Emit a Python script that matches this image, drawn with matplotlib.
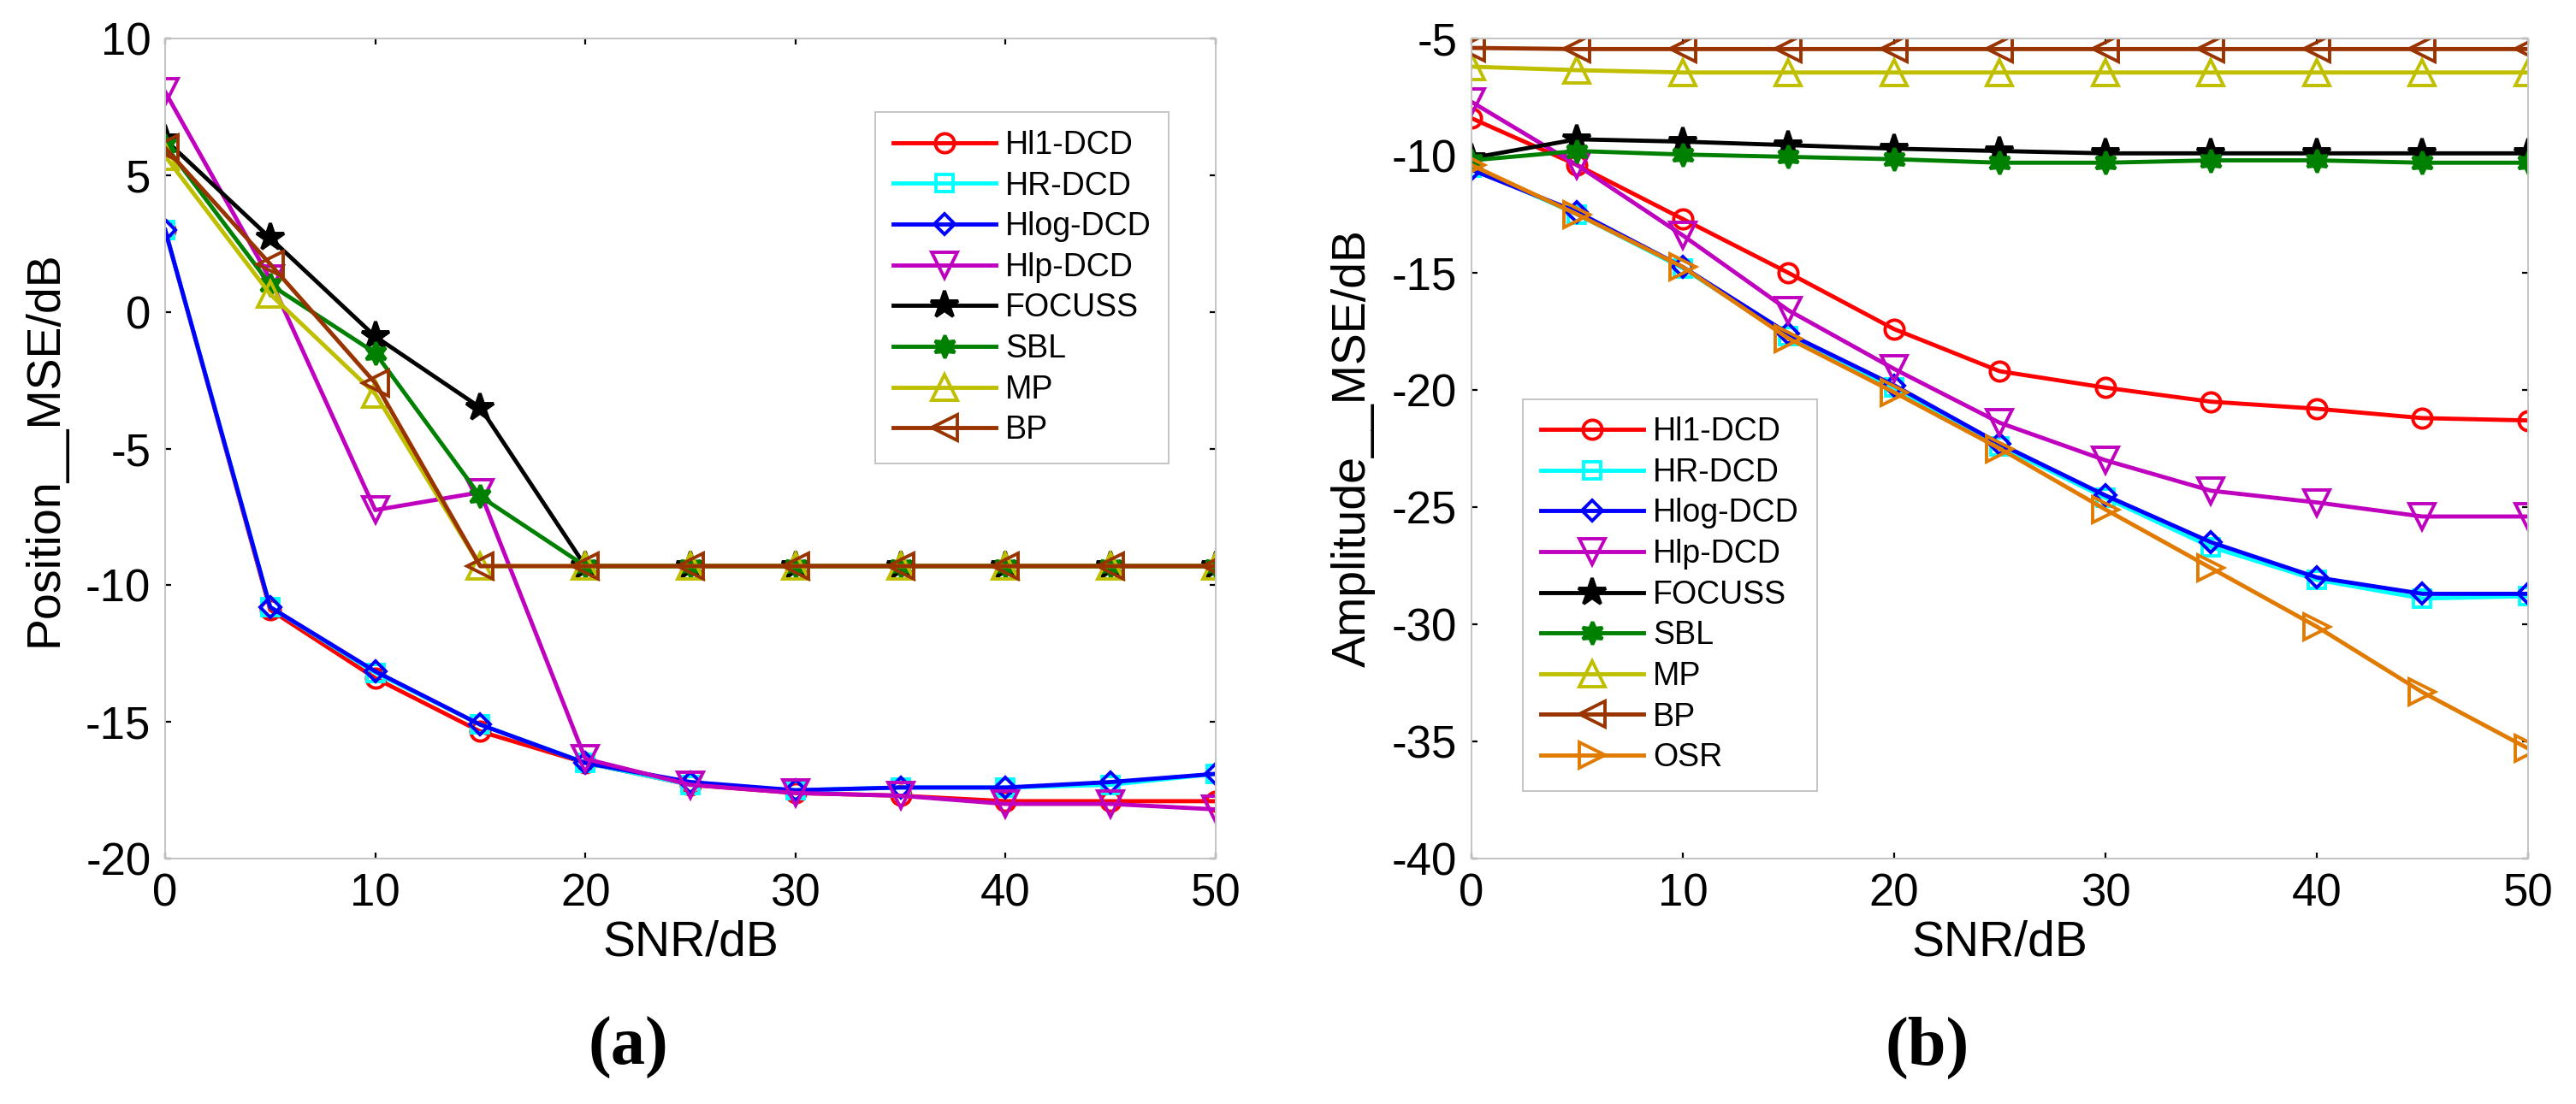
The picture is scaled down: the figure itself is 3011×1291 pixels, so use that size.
import matplotlib
matplotlib.use("Agg")
import matplotlib.pyplot as plt

plt.rcParams['font.family'] = ['Liberation Sans', 'DejaVu Sans']
plt.rcParams['axes.unicode_minus'] = False

snr = [0, 5, 10, 15, 20, 25, 30, 35, 40, 45, 50]

# (a) position MSE / dB
pos_hl1 = [3.0, -10.9, -13.4, -15.35, -16.5, -17.3, -17.6, -17.7, -17.9, -17.9, -17.9]
pos_hr = [3.0, -10.8, -13.2, -15.1, -16.5, -17.3, -17.5, -17.4, -17.4, -17.3, -16.9]
pos_hlog = [3.0, -10.8, -13.15, -15.1, -16.5, -17.2, -17.5, -17.4, -17.4, -17.2, -16.9]
pos_hlp = [8.05, 1.2, -7.25, -6.6, -16.35, -17.3, -17.6, -17.7, -18.0, -18.0, -18.2]
pos_focuss = [6.3, 2.7, -0.9, -3.5, -9.3, -9.3, -9.3, -9.3, -9.3, -9.3, -9.3]
pos_sbl = [6.1, 1.0, -1.5, -6.75, -9.3, -9.3, -9.3, -9.3, -9.3, -9.3, -9.3]
pos_mp = [5.7, 0.65, -3.0, -9.3, -9.3, -9.3, -9.3, -9.3, -9.3, -9.3, -9.3]
pos_bp = [6.0, 1.75, -2.6, -9.3, -9.3, -9.3, -9.3, -9.3, -9.3, -9.3, -9.3]

# (b) amplitude MSE / dB
amp_hl1 = [-8.4, -10.4, -12.7, -15.0, -17.4, -19.2, -19.9, -20.5, -20.8, -21.2, -21.3]
amp_hr = [-10.5, -12.5, -14.8, -17.7, -19.9, -22.4, -24.6, -26.7, -28.1, -28.9, -28.8]
amp_hlog = [-10.6, -12.4, -14.75, -17.6, -19.8, -22.3, -24.5, -26.5, -28.0, -28.7, -28.7]
amp_hlp = [-7.7, -10.4, -13.4, -16.6, -19.1, -21.4, -23.0, -24.3, -24.8, -25.4, -25.4]
amp_focuss = [-10.1, -9.3, -9.4, -9.55, -9.7, -9.8, -9.9, -9.9, -9.9, -9.9, -9.9]
amp_sbl = [-10.2, -9.8, -9.95, -10.05, -10.15, -10.3, -10.3, -10.2, -10.2, -10.3, -10.3]
amp_mp = [-6.2, -6.35, -6.45, -6.45, -6.45, -6.45, -6.45, -6.45, -6.45, -6.45, -6.45]
amp_bp = [-5.4, -5.45, -5.45, -5.45, -5.45, -5.45, -5.45, -5.45, -5.45, -5.45, -5.45]
amp_osr = [-10.4, -12.5, -14.75, -17.8, -20.1, -22.5, -25.1, -27.6, -30.1, -32.9, -35.3]

names = ['Hl1-DCD', 'HR-DCD', 'Hlog-DCD', 'Hlp-DCD', 'FOCUSS', 'SBL', 'MP', 'BP', 'OSR']

# colour, marker, size, filled
styles = {
    'Hl1-DCD': ('#ff0000', 'o', 16, False),
    'HR-DCD': ('#00ffff', 's', 15, False),
    'Hlog-DCD': ('#0000ff', 'D', 12, False),
    'Hlp-DCD': ('#bf00bf', 'v', 22, False),
    'FOCUSS': ('#000000', '*', 24, True),
    'SBL': ('#008000', (6, 1, 0), 19, True),
    'MP': ('#bfbf00', '^', 21, False),
    'BP': ('#993300', '<', 21, False),
    'OSR': ('#e07b00', '>', 21, False),
}

pos_series = [pos_hl1, pos_hr, pos_hlog, pos_hlp, pos_focuss, pos_sbl, pos_mp, pos_bp]
amp_series = [amp_hl1, amp_hr, amp_hlog, amp_hlp, amp_focuss, amp_sbl, amp_mp, amp_bp, amp_osr]


def draw_panel(ax, series, ylim, yticks, ylabel, leg_anchor, ylab_x):
    for name, vals in zip(names, series):
        color, marker, ms, filled = styles[name]
        ax.plot(snr, vals, color=color, marker=marker, markersize=ms,
                markeredgewidth=2.8, linewidth=3.5,
                markerfacecolor=color if filled else 'none',
                markeredgecolor=color, label=name)
    ax.set_xlim(0, 50)
    ax.set_ylim(*ylim)
    ax.set_xticks([0, 10, 20, 30, 40, 50])
    ax.set_yticks(yticks)
    for sp in ax.spines.values():
        sp.set_color('#c4c4c4')
        sp.set_linewidth(1.4)
    ax.tick_params(direction='in', length=5, width=1.6, color='black',
                   top=True, right=True, labelsize=38, pad=12)
    ax.set_xlabel('SNR/dB', fontsize=41)
    ax.xaxis.set_label_coords(0.5, -0.075)
    ax.set_ylabel(ylabel, fontsize=40)
    ax.yaxis.set_label_coords(ylab_x, 0.5)
    leg = ax.legend(loc='upper left', bbox_to_anchor=leg_anchor,
                    borderaxespad=0, fontsize=27, handlelength=3.2,
                    labelspacing=0.31, handletextpad=0.3,
                    borderpad=0.55, fancybox=False, framealpha=1.0,
                    edgecolor='#c4c4c4')
    leg.get_frame().set_linewidth(1.4)


fig = plt.figure(figsize=(30.11, 12.91), dpi=100)
ax1 = fig.add_axes([0.0641, 0.2223, 0.4078, 0.7428])
ax2 = fig.add_axes([0.5712, 0.2223, 0.4102, 0.7428])

draw_panel(ax1, pos_series, (-20, 10), [-20, -15, -10, -5, 0, 5, 10],
           'Position__MSE/dB', (0.676, 0.910), -0.093)
draw_panel(ax2, amp_series, (-40, -5), [-40, -35, -30, -25, -20, -15, -10, -5],
           'Amplitude__MSE/dB', (0.049, 0.5605), -0.091)

fig.text(0.244, 0.051, '(a)', ha='center', va='center', fontsize=58,
         fontweight='bold', family='Liberation Serif')
fig.text(0.748, 0.051, '(b)', ha='center', va='center', fontsize=58,
         fontweight='bold', family='Liberation Serif')

fig.savefig('out.png', dpi=100)
